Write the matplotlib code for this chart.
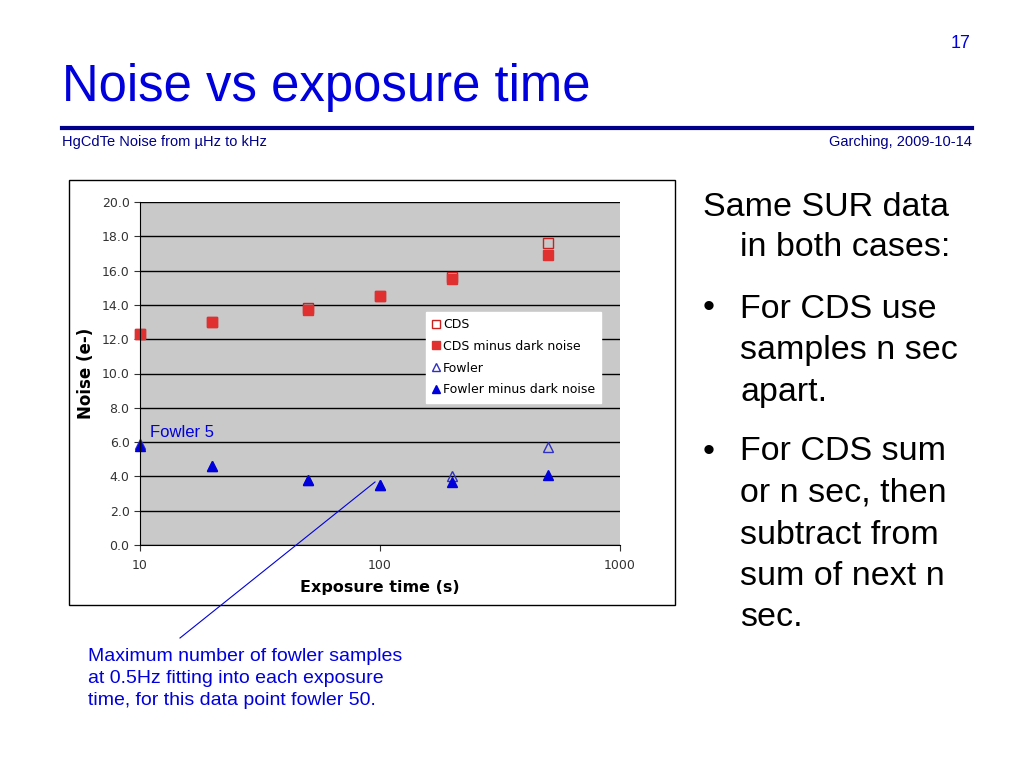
import matplotlib.pyplot as plt
import matplotlib.ticker as mticker
from matplotlib.patches import Rectangle
from matplotlib.lines import Line2D

# data
exposure = [10, 20, 50, 100, 200, 500]
cds = [12.3, 13.0, 13.8, 14.5, 15.6, 17.6]
cds_minus_dark = [12.3, 13.0, 13.7, 14.5, 15.5, 16.9]
fowler = [5.9, 4.6, 3.8, 3.5, 4.0, 5.7]
fowler_minus_dark = [5.8, 4.6, 3.8, 3.5, 3.7, 4.1]
y_ticks = [0, 2, 4, 6, 8, 10, 12, 14, 16, 18, 20]

blue = '#0000dd'
red = '#e03030'
sans = 'Liberation Sans'

fig = plt.figure(figsize=(10.24, 7.68), dpi=100)
W, H = 1024, 768

def fx(px):
    return px / W

def fy(py):
    return 1 - py / H

# slide header
fig.text(fx(62), fy(88), 'Noise vs exposure time', color=blue, fontsize=36.6,
         family=sans, va='center', ha='left')
fig.text(fx(970), fy(44), '17', color=blue, fontsize=13, family=sans,
         va='center', ha='right')
fig.add_artist(Line2D([fx(62), fx(972)], [fy(128), fy(128)], color='#00008b', lw=3))
fig.text(fx(62), fy(142), 'HgCdTe Noise from µHz to kHz', color='#00008b', fontsize=10.5,
         family=sans, va='center', ha='left')
fig.text(fx(972), fy(142), 'Garching, 2009-10-14', color='#00008b', fontsize=10.5,
         family=sans, va='center', ha='right')

# chart frame
fig.add_artist(Rectangle((fx(69), fy(605)), fx(675) - fx(69), fy(180) - fy(605),
                         transform=fig.transFigure, facecolor='white',
                         edgecolor='black', lw=1, zorder=0))

ax = fig.add_axes([fx(140), fy(545), fx(620) - fx(140), fy(202) - fy(545)])
ax.set_facecolor('#c9c9c9')
ax.set_xscale('log')
ax.set_xlim(10, 1000)
ax.set_ylim(0, 20)
ax.set_yticks(y_ticks)
ax.yaxis.set_major_formatter(mticker.FormatStrFormatter('%.1f'))
ax.xaxis.set_major_formatter(mticker.FuncFormatter(lambda v, p: '%d' % v))
ax.xaxis.set_minor_locator(mticker.NullLocator())
ax.grid(axis='y', color='black', lw=1)
ax.set_axisbelow(True)
for s in ['top', 'right']:
    ax.spines[s].set_visible(False)
ax.tick_params(labelsize=9, colors='#333333', length=4)
ax.tick_params(axis='x', pad=6)
ax.set_xlabel('Exposure time (s)', fontsize=11.5, fontweight='bold', labelpad=6)
ax.set_ylabel('Noise (e-)', fontsize=12, fontweight='bold', labelpad=5)

ax.plot(exposure, cds, 's', ms=7, mfc='none', mec='#cc2020', mew=1,
        label='CDS', clip_on=False)
ax.plot(exposure, cds_minus_dark, 's', ms=7, color=red, label='CDS minus dark noise',
        clip_on=False)
ax.plot(exposure, fowler, '^', ms=7, mfc='none', mec='#3030c0', mew=1,
        label='Fowler', clip_on=False)
ax.plot(exposure, fowler_minus_dark, '^', ms=7, color=blue,
        label='Fowler minus dark noise', clip_on=False)

leg = ax.legend(loc='upper left', bbox_to_anchor=(0.595, 0.68), fontsize=9,
                frameon=True, fancybox=False, framealpha=1, edgecolor='white',
                handlelength=0.6, handletextpad=0.3, markerscale=0.8,
                borderpad=0.5, labelspacing=0.7, borderaxespad=0)

ax.text(11, 6.3, 'Fowler 5', color=blue, fontsize=12, family=sans)

# annotation line and text
fig.add_artist(Line2D([fx(180), fx(375)], [fy(638), fy(482)], color=blue, lw=0.8))
note = ('Maximum number of fowler samples\n'
        'at 0.5Hz fitting into each exposure\n'
        'time, for this data point fowler 50.')
fig.text(fx(88), fy(648), note, color=blue, fontsize=14, family=sans,
         va='top', ha='left', linespacing=1.38)

# right-hand bullet text
rfs = 24.5
fig.text(fx(703), fy(207), 'Same SUR data', fontsize=rfs, family=sans, va='center')
fig.text(fx(740), fy(248), 'in both cases:', fontsize=rfs, family=sans, va='center')
fig.text(fx(703), fy(309), '•', fontsize=rfs, family=sans, va='center')
for i, line in enumerate(['For CDS use', 'samples n sec', 'apart.']):
    fig.text(fx(740), fy(309 + 42 * i), line, fontsize=rfs, family=sans, va='center')
fig.text(fx(703), fy(452), '•', fontsize=rfs, family=sans, va='center')
for i, line in enumerate(['For CDS sum', 'or n sec, then', 'subtract from',
                          'sum of next n', 'sec.']):
    fig.text(fx(740), fy(452 + 41.5 * i), line, fontsize=rfs, family=sans, va='center')

fig.savefig('out.png', dpi=100)
